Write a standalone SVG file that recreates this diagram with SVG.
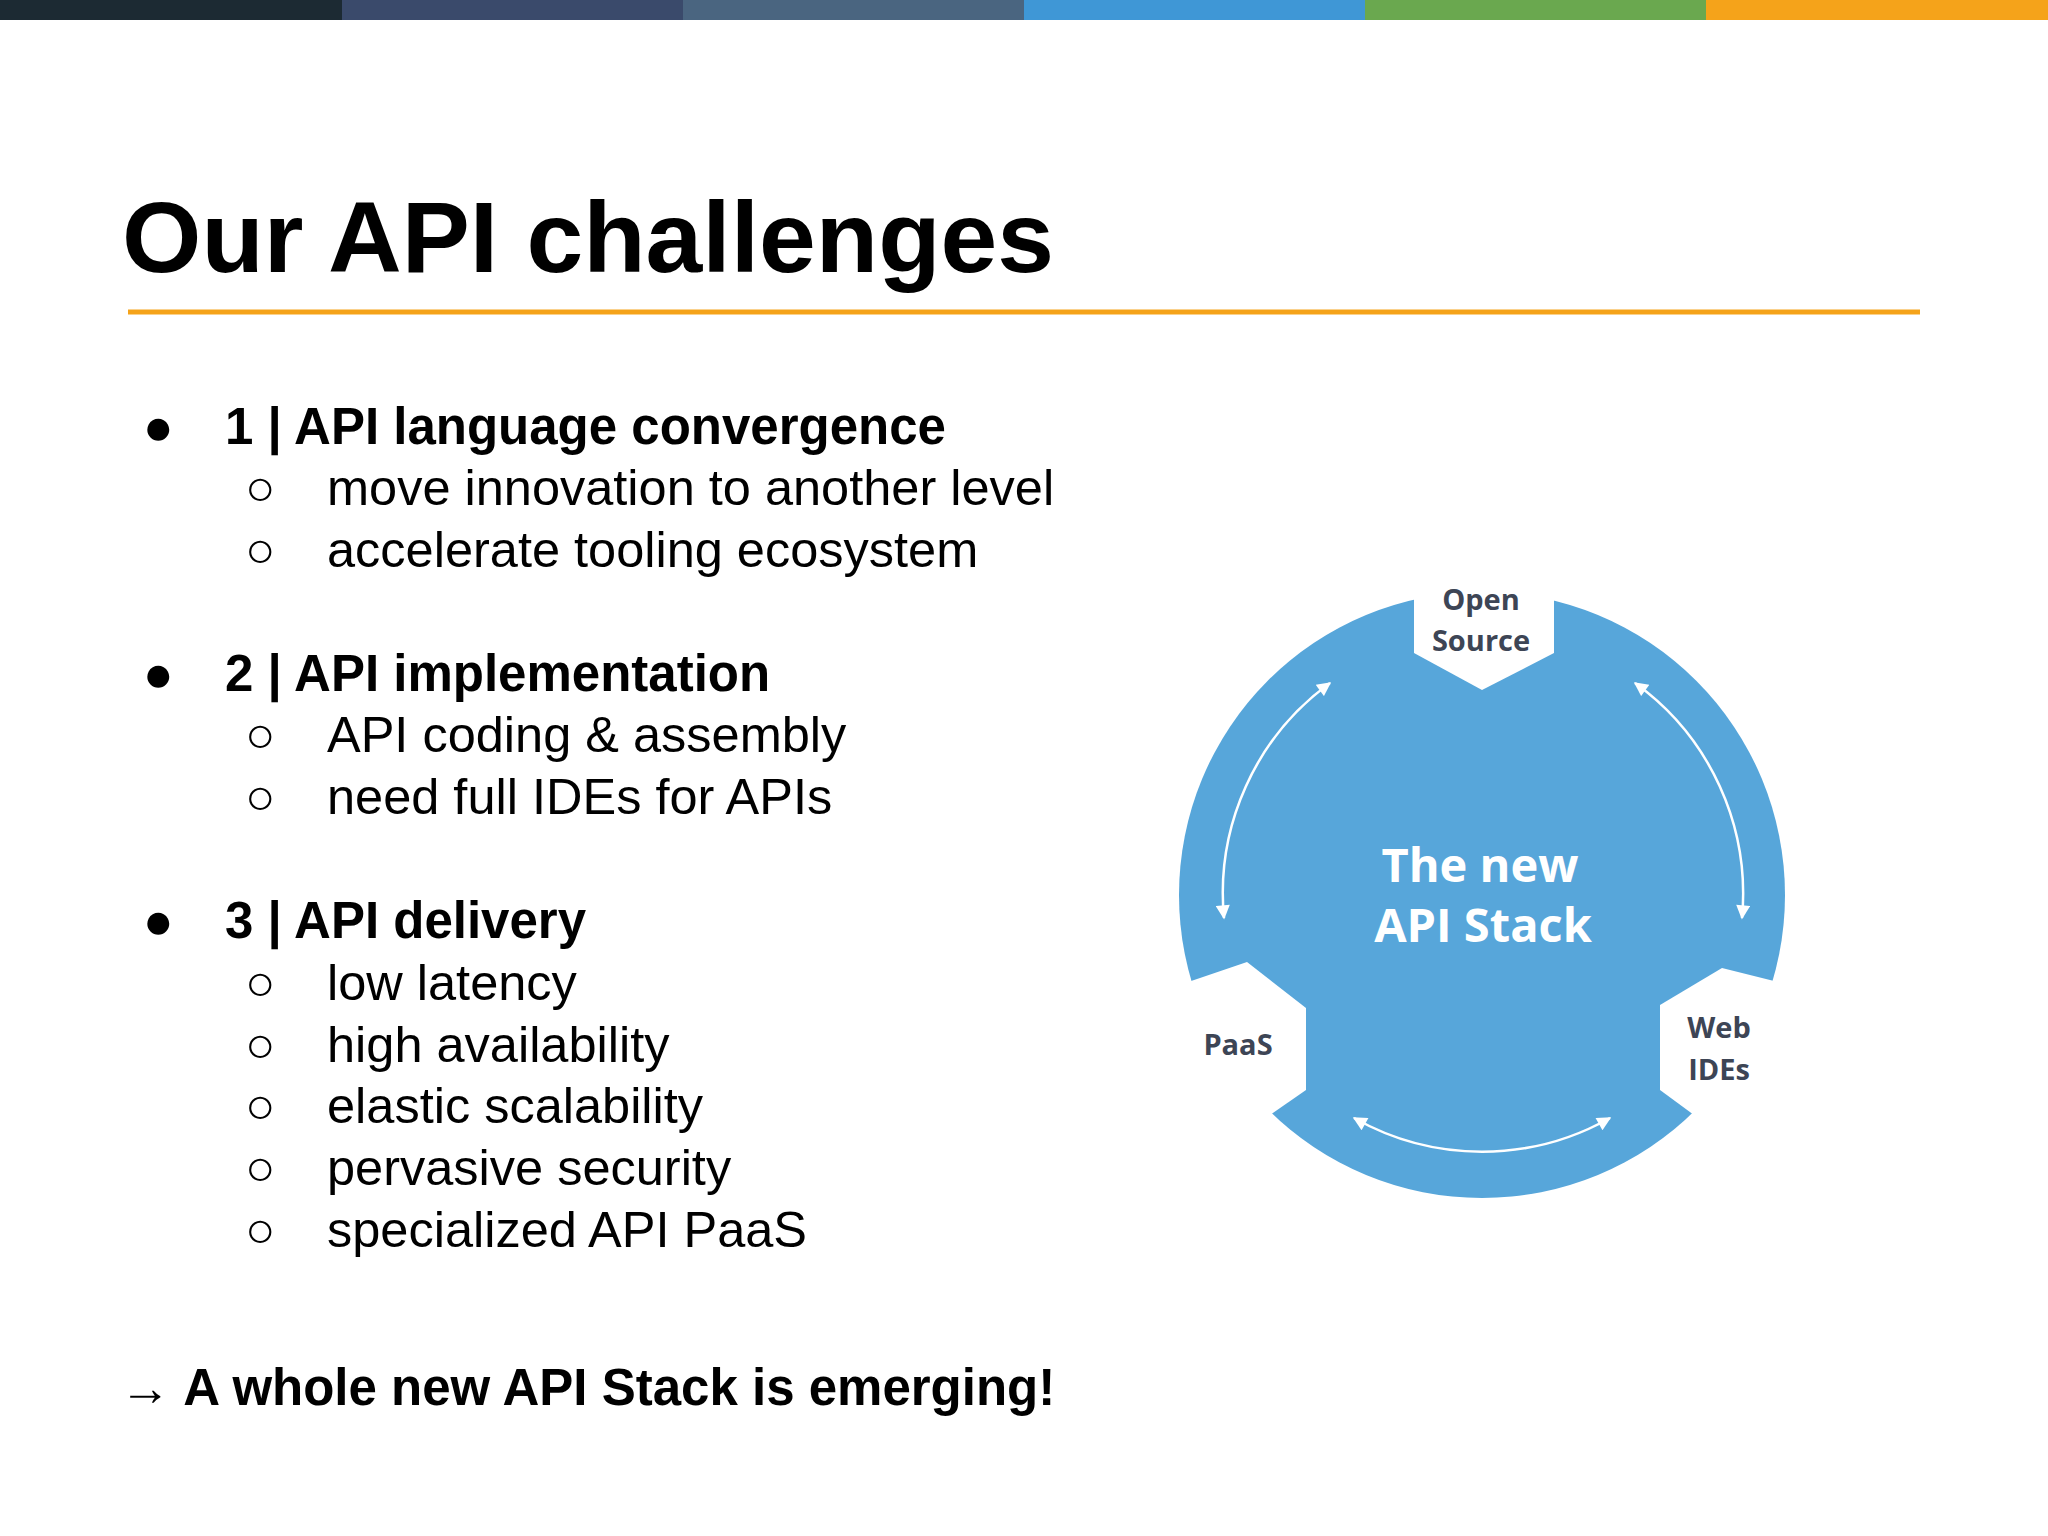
<svg xmlns="http://www.w3.org/2000/svg" width="2048" height="1536" viewBox="0 0 2048 1536">
<defs>
<style>
.t{font-family:"Liberation Sans",Arial,sans-serif;fill:#000}
.h{font-size:51px;font-weight:bold}
.s{font-size:50.5px}
.c{font-family:"Open Sans","DejaVu Sans",sans-serif;font-weight:bold;text-anchor:middle}
.lab{font-size:29px;fill:#3d4555}
.ctr{font-size:47px;fill:#fff}
.arc{fill:none;stroke:#fff;stroke-width:2.5;marker-start:url(#ah);marker-end:url(#ah)}
</style>
<marker id="ah" viewBox="0 0 10 10" refX="9" refY="5" markerWidth="16" markerHeight="14" markerUnits="userSpaceOnUse" orient="auto-start-reverse">
<path d="M0,0 L10,5 L0,10 z" fill="#fff"/>
</marker>
</defs>
<rect width="2048" height="1536" fill="#fff"/>
<g id="topbar">
<rect x="0" y="0" width="342" height="20" fill="#1c2a33"/>
<rect x="342" y="0" width="341" height="20" fill="#3a4a6b"/>
<rect x="683" y="0" width="341" height="20" fill="#4a6580"/>
<rect x="1024" y="0" width="341" height="20" fill="#3f97d6"/>
<rect x="1365" y="0" width="341" height="20" fill="#6aa84f"/>
<rect x="1706" y="0" width="342" height="20" fill="#f5a31a"/>
</g>
<g id="title">
<text class="t" x="122" y="272" font-size="100" font-weight="bold" textLength="932" lengthAdjust="spacingAndGlyphs">Our API challenges</text>
<line x1="128" y1="312" x2="1920" y2="312" stroke="#f5a31a" stroke-width="5"/>
</g>
<g id="bullets">
<text class="t h" x="143" y="444">●</text><text class="t h" x="225" y="444">1 | API language convergence</text>
<text class="t s" x="245" y="505">○</text><text class="t s" x="327" y="505">move innovation to another level</text>
<text class="t s" x="245" y="567">○</text><text class="t s" x="327" y="567">accelerate tooling ecosystem</text>
<text class="t h" x="143" y="691">●</text><text class="t h" x="225" y="691">2 | API implementation</text>
<text class="t s" x="245" y="752">○</text><text class="t s" x="327" y="752">API coding &amp; assembly</text>
<text class="t s" x="245" y="814">○</text><text class="t s" x="327" y="814">need full IDEs for APIs</text>
<text class="t h" x="143" y="938">●</text><text class="t h" x="225" y="938">3 | API delivery</text>
<text class="t s" x="245" y="1000">○</text><text class="t s" x="327" y="1000">low latency</text>
<text class="t s" x="245" y="1062">○</text><text class="t s" x="327" y="1062">high availability</text>
<text class="t s" x="245" y="1123">○</text><text class="t s" x="327" y="1123">elastic scalability</text>
<text class="t s" x="245" y="1185">○</text><text class="t s" x="327" y="1185">pervasive security</text>
<text class="t s" x="245" y="1247">○</text><text class="t s" x="327" y="1247">specialized API PaaS</text>
<text class="t h" x="120" y="1405" font-size="52">→ A whole new API Stack is emerging!</text>
</g>
<g id="stack">
<circle cx="1482" cy="895" r="303" fill="#57a6da"/>
<polygon points="1414,560 1414,653 1482,690 1554,653 1554,560" fill="#fff"/>
<polygon points="1150,995 1247,962 1306,1008 1306,1090 1270,1115 1150,1115" fill="#fff"/>
<polygon points="1660,1005 1722,968 1810,990 1810,1115 1694,1115 1660,1090" fill="#fff"/>
<text class="c lab" x="1481" y="610">Open</text>
<text class="c lab" x="1481" y="651">Source</text>
<text class="c lab" x="1238" y="1055">PaaS</text>
<text class="c lab" x="1719" y="1038">Web</text>
<text class="c lab" x="1719" y="1080">IDEs</text>
<text class="c ctr" x="1480" y="882">The new</text>
<text class="c ctr" x="1483" y="942">API Stack</text>
</g>
<g id="connectors">
<path class="arc" d="M1330,683 A260,260 0 0 0 1224,918"/>
<path class="arc" d="M1635,683 A260,260 0 0 1 1742,918"/>
<path class="arc" d="M1354,1118 A260,260 0 0 0 1610,1118"/>
</g>
</svg>
